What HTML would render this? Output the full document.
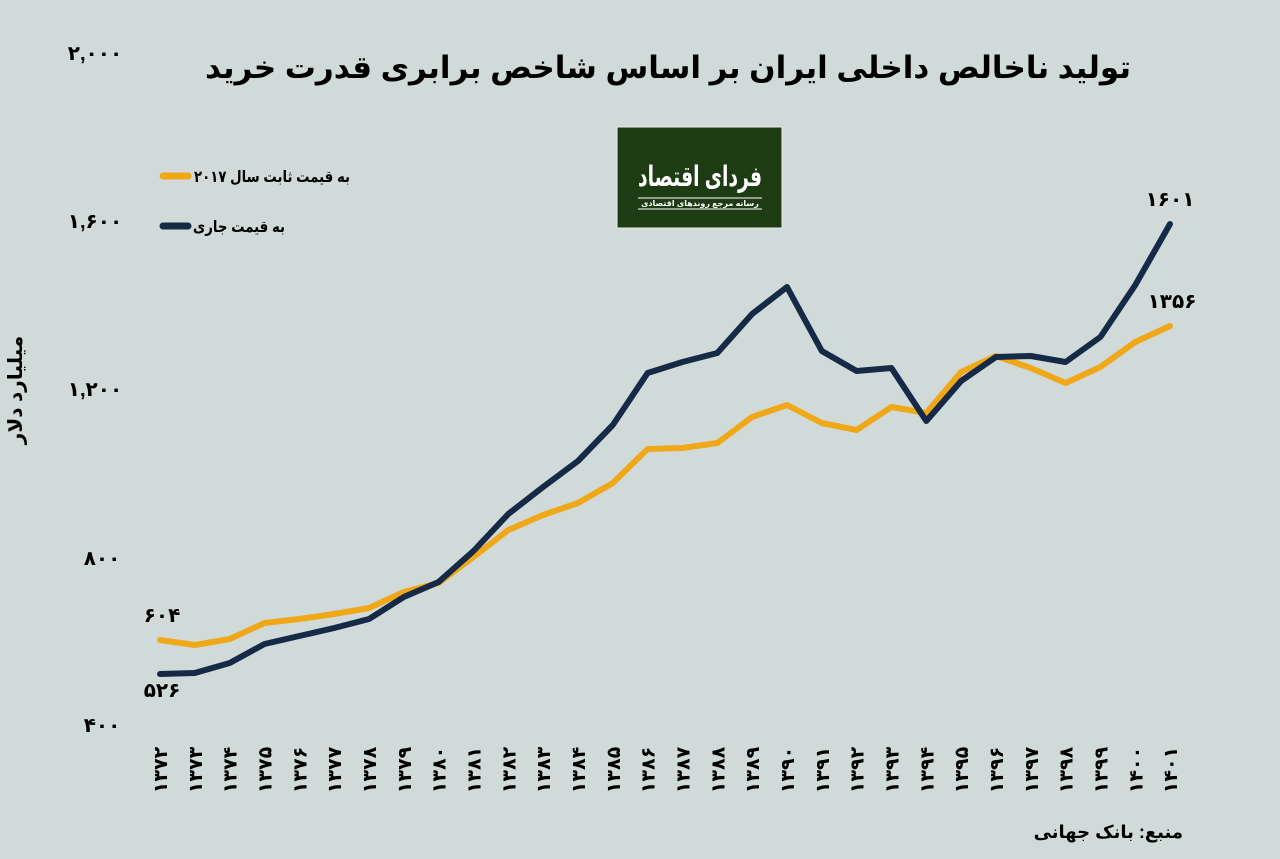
<!DOCTYPE html>
<html><head><meta charset="utf-8"><style>
html,body{margin:0;padding:0;background:#d0dbd9;}
svg{display:block}
text{font-family:"Liberation Sans","DejaVu Sans",sans-serif;font-weight:bold;fill:#000}
</style></head><body>
<svg width="1280" height="859" viewBox="0 0 1280 859" xmlns="http://www.w3.org/2000/svg">
<rect width="1280" height="859" fill="#d0dbd9"/>
<text x="668" y="78" text-anchor="middle" font-size="31" direction="rtl">تولید ناخالص داخلی ایران بر اساس شاخص برابری قدرت خرید</text>
<g font-size="20" text-anchor="middle">
<text x="95" y="60">۲,۰۰۰</text>
<text x="95" y="228">۱,۶۰۰</text>
<text x="95" y="396">۱,۲۰۰</text>
<text x="102" y="565">۸۰۰</text>
<text x="102" y="732">۴۰۰</text>
</g>
<text transform="translate(22,390) rotate(-90)" text-anchor="middle" font-size="20" direction="rtl">میلیارد دلار</text>
<rect x="617" y="127" width="165" height="101" fill="#1d3c14" stroke="#e8ece8" stroke-width="1"/>
<text x="700" y="186" text-anchor="middle" font-size="28" style="fill:#fff" direction="rtl" textLength="124" lengthAdjust="spacingAndGlyphs">فردای اقتصاد</text>
<line x1="638" y1="198" x2="762" y2="198" stroke="#fff" stroke-width="1"/>
<line x1="638" y1="209" x2="762" y2="209" stroke="#fff" stroke-width="1"/>
<text x="700" y="206" text-anchor="middle" font-size="8" style="fill:#fff" direction="rtl">رسانه مرجع روندهای اقتصادی</text>
<line x1="163" y1="176" x2="188" y2="176" stroke="#f0a818" stroke-width="7" stroke-linecap="round"/>
<text x="350" y="182" text-anchor="start" font-size="16" direction="rtl" textLength="156" lengthAdjust="spacingAndGlyphs">به قیمت ثابت سال ۲۰۱۷</text>
<line x1="163" y1="226" x2="188" y2="226" stroke="#162a48" stroke-width="7" stroke-linecap="round"/>
<text x="285" y="232" text-anchor="start" font-size="16" direction="rtl" textLength="92" lengthAdjust="spacingAndGlyphs">به قیمت جاری</text>
<polyline fill="none" stroke="#f0a818" stroke-width="6" stroke-linejoin="round" stroke-linecap="round" points="160,640 194.8,645 229.7,639 264.5,623 299.3,619 334.2,614 369,608 403.8,592 438.6,583 473.5,557 508.3,530 543.1,515 578,503 612.8,483 647.6,449 682.5,448 717.3,443 752.1,417 787,405 821.8,423 856.6,430 891.4,407 926.3,413 961.1,372 995.9,356 1030.8,368 1065.6,383 1100.4,367 1135.3,342 1170,326"/>
<polyline fill="none" stroke="#162a48" stroke-width="6" stroke-linejoin="round" stroke-linecap="round" points="160,674 194.8,673 229.7,663 264.5,644 299.3,636 334.2,628 369,619 403.8,597 438.6,582 473.5,551 508.3,514 543.1,487 578,461 612.8,425 647.6,373 682.5,362 717.3,353 752.1,314 787,287 821.8,351 856.6,371 891.4,368 926.3,421 961.1,381 995.9,357 1030.8,356 1065.6,362 1100.4,337 1135.3,285 1170,224"/>
<g font-size="20">
<text x="162" y="622" text-anchor="middle">۶۰۴</text>
<text x="162" y="697" text-anchor="middle">۵۲۶</text>
<text x="1170" y="206" text-anchor="middle">۱۶۰۱</text>
<text x="1172" y="308" text-anchor="middle">۱۳۵۶</text>
</g>
<g font-size="19" text-anchor="middle">
<text transform="translate(167,770) rotate(-90)">۱۳۷۲</text>
<text transform="translate(201.8,770) rotate(-90)">۱۳۷۳</text>
<text transform="translate(236.7,770) rotate(-90)">۱۳۷۴</text>
<text transform="translate(271.5,770) rotate(-90)">۱۳۷۵</text>
<text transform="translate(306.3,770) rotate(-90)">۱۳۷۶</text>
<text transform="translate(341.2,770) rotate(-90)">۱۳۷۷</text>
<text transform="translate(376,770) rotate(-90)">۱۳۷۸</text>
<text transform="translate(410.8,770) rotate(-90)">۱۳۷۹</text>
<text transform="translate(445.6,770) rotate(-90)">۱۳۸۰</text>
<text transform="translate(480.5,770) rotate(-90)">۱۳۸۱</text>
<text transform="translate(515.3,770) rotate(-90)">۱۳۸۲</text>
<text transform="translate(550.1,770) rotate(-90)">۱۳۸۳</text>
<text transform="translate(585,770) rotate(-90)">۱۳۸۴</text>
<text transform="translate(619.8,770) rotate(-90)">۱۳۸۵</text>
<text transform="translate(654.6,770) rotate(-90)">۱۳۸۶</text>
<text transform="translate(689.5,770) rotate(-90)">۱۳۸۷</text>
<text transform="translate(724.3,770) rotate(-90)">۱۳۸۸</text>
<text transform="translate(759.1,770) rotate(-90)">۱۳۸۹</text>
<text transform="translate(794,770) rotate(-90)">۱۳۹۰</text>
<text transform="translate(828.8,770) rotate(-90)">۱۳۹۱</text>
<text transform="translate(863.6,770) rotate(-90)">۱۳۹۲</text>
<text transform="translate(898.4,770) rotate(-90)">۱۳۹۳</text>
<text transform="translate(933.3,770) rotate(-90)">۱۳۹۴</text>
<text transform="translate(968.1,770) rotate(-90)">۱۳۹۵</text>
<text transform="translate(1002.9,770) rotate(-90)">۱۳۹۶</text>
<text transform="translate(1037.8,770) rotate(-90)">۱۳۹۷</text>
<text transform="translate(1072.6,770) rotate(-90)">۱۳۹۸</text>
<text transform="translate(1107.4,770) rotate(-90)">۱۳۹۹</text>
<text transform="translate(1142.3,770) rotate(-90)">۱۴۰۰</text>
<text transform="translate(1177,770) rotate(-90)">۱۴۰۱</text>
</g>
<text x="1183" y="838" text-anchor="start" font-size="18" direction="rtl">منبع: بانک جهانی</text>
</svg>
</body></html>
